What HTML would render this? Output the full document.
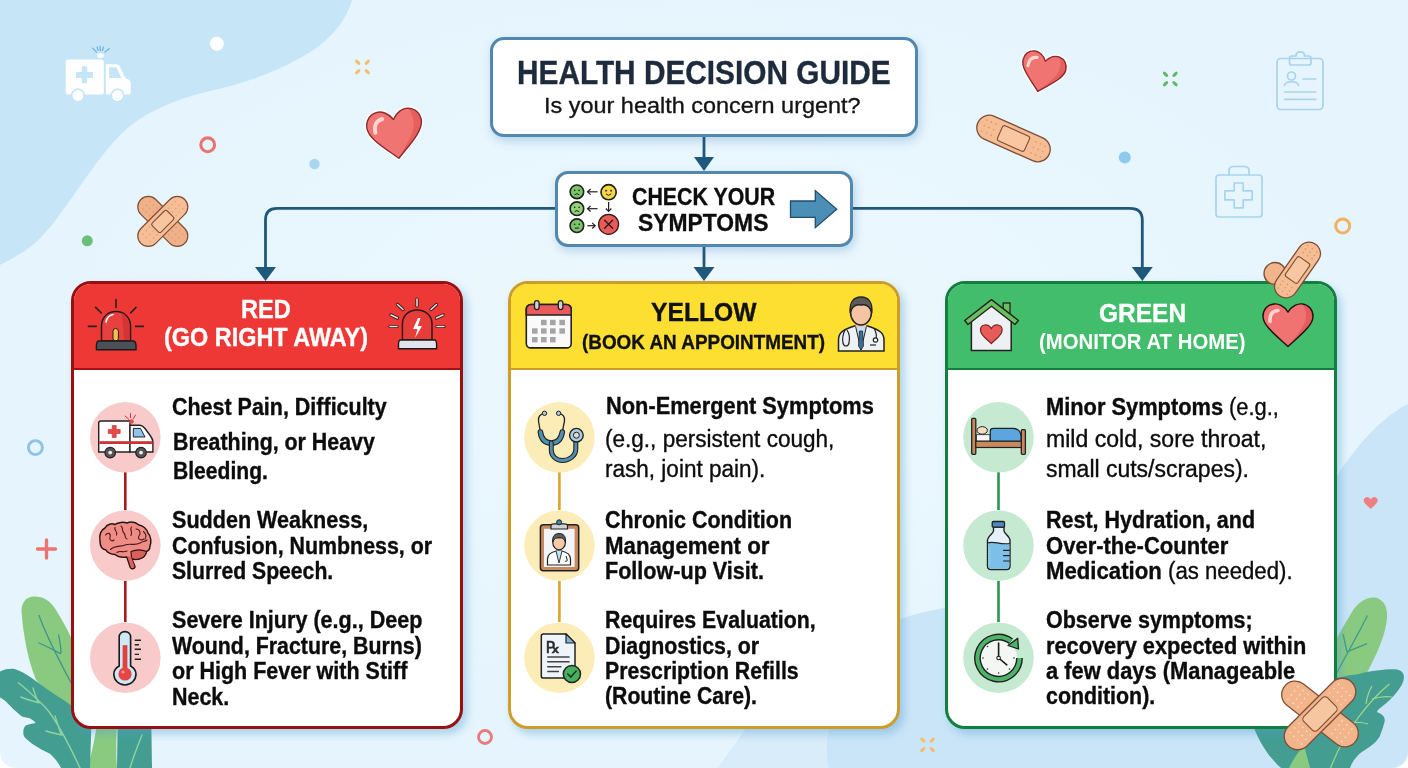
<!DOCTYPE html>
<html><head><meta charset="utf-8"><title>Health Decision Guide</title>
<style>
*{box-sizing:border-box;margin:0;padding:0}
html,body{width:1408px;height:768px;overflow:hidden}
body{position:relative;background:#e6f5fd;font-family:"Liberation Sans",Arial,sans-serif}
.abs{position:absolute}
.tl{position:absolute;white-space:nowrap;line-height:1;transform-origin:0 0;-webkit-text-stroke:0.35px currentColor}
.box{position:absolute;background:#fff;border:3px solid #5287ae;border-radius:14px;box-shadow:2px 4px 10px rgba(90,150,200,.35)}
.card{position:absolute;top:280.5px;width:392px;height:448.5px;border-radius:20px;background:#fff;overflow:hidden;box-shadow:4px 5px 9px rgba(80,155,205,.4)}
.hdr{position:absolute;left:0;top:0;right:0;height:86px}
</style></head><body>
<svg class="abs" style="left:0;top:0" width="1408" height="768" viewBox="0 0 1408 768"><defs><radialGradient id="glow" cx="50%" cy="45%" r="55%"><stop offset="0" stop-color="#eff9fe"/><stop offset="1" stop-color="#e6f5fd" stop-opacity="0"/></radialGradient></defs><rect width="1408" height="768" fill="url(#glow)"/><path d="M0,0 L352,0 C345,25 325,45 300,58 C275,72 245,84 208,91.5 C180,98 150,110 130,126 C110,143 95,165 78,189 C62,212 48,232 34,244 C24,252 12,259 0,265 Z" fill="#c6e6f8"/><path d="M718,768 L746,729 C770,705 830,655 901,619 C920,612 935,610 960,605 C1100,570 1250,520 1337,476 C1355,448 1380,418 1408,404 L1408,768 Z" fill="#cae5f8"/><path d="M718,768 L746,729 L829,729 C826,742 826,756 829,768 Z" fill="#d8ecfa"/><g fill="#ffffff"><rect x="65.7" y="59.4" width="38.1" height="35.1" rx="2.5"/><path d="M105.8,64.3 L116.5,64.3 C118,64.3 119,65 119.8,66.5 L125.3,78 L128.5,79.5 C130,80.3 130.7,81.5 130.7,83.5 L130.7,92.5 C130.7,93.6 129.8,94.5 128.7,94.5 L105.8,94.5 Z"/><ellipse cx="100.4" cy="55.6" rx="3.4" ry="2.3"/></g><path d="M109.2,67.2 L116.5,67.2 L121.4,78 L109.2,78 Z" fill="#c6e6f8"/><path d="M81.8,66.2 h5.4 v5.9 h5.8 v5.9 h-5.8 v5.3 h-5.4 v-5.3 h-5.8 v-5.9 h5.8 Z" fill="#c6e6f8"/><circle cx="77.9" cy="95.5" r="7.2" fill="#c6e6f8"/><circle cx="77.9" cy="95.5" r="5.4" fill="#fff"/><circle cx="117.5" cy="95.5" r="7.2" fill="#c6e6f8"/><circle cx="117.5" cy="95.5" r="5.4" fill="#fff"/><path d="M115,97.5 C116.5,99 118.5,99 120,97.5" stroke="#d8ecf9" stroke-width=".8" fill="none"/><path d="M92.6,48.2 L96.5,52.1 M100,46.2 L100.4,50.6 M109.2,48.7 L104.8,52.1 M97,47 L98.2,50.5 M103.5,47 L102.4,50.5" stroke="#6aaee0" stroke-width="1.2" stroke-linecap="round"/><g fill="none" stroke="#a9d3ee" stroke-width="1.7" stroke-linecap="round" stroke-linejoin="round"><rect x="1277" y="58.5" width="46" height="51" rx="4"/><path d="M1289.5,63 L1289.5,58 C1289.5,56.5 1290.5,56 1292,56 L1296,56 C1296,50.5 1304.5,50.5 1304.5,56 L1308.5,56 C1310,56 1311,56.5 1311,58 L1311,63 C1311,64.5 1310,65 1308.5,65 L1292,65 C1290.5,65 1289.5,64.5 1289.5,63 Z"/><circle cx="1291.5" cy="76" r="4"/><path d="M1284.5,85.5 C1285,80.5 1298,80.5 1298.5,85.5"/><path d="M1303,79 L1315.7,79 M1284.5,92 L1315.7,92 M1284.5,99.3 L1315.7,99.3"/><rect x="1216" y="175" width="46" height="42" rx="3"/><path d="M1229,175 L1229,170.5 C1229,167.5 1231,166.5 1234,166.5 L1244,166.5 C1247,166.5 1249,167.5 1249,170.5 L1249,175"/><path d="M1234.2,183 h9 v7.8 h9 v9 h-9 v8 h-9 v-8 h-9.3 v-9 h9.3 Z"/></g><circle cx="216.8" cy="43.8" r="7" fill="#ffffff"/><ellipse cx="0" cy="-6.7" rx="1.60" ry="3.20" transform="translate(362.5,67) rotate(45)" fill="#f3bd6e"/><ellipse cx="0" cy="-6.7" rx="1.60" ry="3.20" transform="translate(362.5,67) rotate(135)" fill="#f3bd6e"/><ellipse cx="0" cy="-6.7" rx="1.60" ry="3.20" transform="translate(362.5,67) rotate(225)" fill="#f3bd6e"/><ellipse cx="0" cy="-6.7" rx="1.60" ry="3.20" transform="translate(362.5,67) rotate(315)" fill="#f3bd6e"/><g transform="translate(395.5,134) rotate(-8)"><path d="M0.00,-14.70 C-4.40,-22.05 -11.00,-24.50 -15.40,-24.01 C-23.10,-23.03 -27.50,-17.15 -27.50,-9.80 C-27.50,0.98 -12.10,12.74 0.00,24.50 C12.10,12.74 27.50,0.98 27.50,-9.80 C27.50,-17.15 23.10,-23.03 15.40,-24.01 C11.00,-24.50 4.40,-22.05 0.00,-14.70 Z" fill="#fff" stroke="#fff" stroke-width="4" stroke-linejoin="round" opacity=".85"/><path d="M0.00,-14.70 C-4.40,-22.05 -11.00,-24.50 -15.40,-24.01 C-23.10,-23.03 -27.50,-17.15 -27.50,-9.80 C-27.50,0.98 -12.10,12.74 0.00,24.50 C12.10,12.74 27.50,0.98 27.50,-9.80 C27.50,-17.15 23.10,-23.03 15.40,-24.01 C11.00,-24.50 4.40,-22.05 0.00,-14.70 Z" fill="#f07471"/><path d="M15.40,-23.52 C25.30,-22.05 27.50,-14.70 27.50,-9.80 C27.50,0.00 16.50,8.82 0.00,24.50 C11.00,9.80 19.80,0.00 19.80,-9.80 C19.80,-16.17 18.15,-21.07 15.40,-23.52 Z" fill="#e05858" opacity=".75"/><path d="M0.00,-14.70 C-4.40,-22.05 -11.00,-24.50 -15.40,-24.01 C-23.10,-23.03 -27.50,-17.15 -27.50,-9.80 C-27.50,0.98 -12.10,12.74 0.00,24.50 C12.10,12.74 27.50,0.98 27.50,-9.80 C27.50,-17.15 23.10,-23.03 15.40,-24.01 C11.00,-24.50 4.40,-22.05 0.00,-14.70 Z" fill="none" stroke="#8a2a2a" stroke-width="1.4" stroke-linejoin="round"/><path d="M-19.8,-3.9 C-20.4,-12.2 -16.5,-16.2 -11.0,-16.7" stroke="#fbd3d0" stroke-width="3.9" fill="none" stroke-linecap="round"/></g><circle cx="207.7" cy="144.8" r="6.9" fill="none" stroke="#e87474" stroke-width="3.1"/><circle cx="314.5" cy="164" r="5.2" fill="#a8d5f2"/><g transform="translate(162.8,221.4) rotate(0)"><g transform="rotate(45)"><rect x="-31.0" y="-10.5" width="62" height="21" rx="10.5" fill="#f0b088" stroke="#7e4e36" stroke-width="1.2"/><circle cx="-13.6" cy="-5.2" r="0.75" fill="#d8946a" opacity=".75"/><circle cx="-13.6" cy="0.0" r="0.75" fill="#d8946a" opacity=".75"/><circle cx="-13.6" cy="5.2" r="0.75" fill="#d8946a" opacity=".75"/><circle cx="-18.3" cy="-5.2" r="0.75" fill="#d8946a" opacity=".75"/><circle cx="-18.3" cy="0.0" r="0.75" fill="#d8946a" opacity=".75"/><circle cx="-18.3" cy="5.2" r="0.75" fill="#d8946a" opacity=".75"/><circle cx="-22.9" cy="-5.2" r="0.75" fill="#d8946a" opacity=".75"/><circle cx="-22.9" cy="0.0" r="0.75" fill="#d8946a" opacity=".75"/><circle cx="-22.9" cy="5.2" r="0.75" fill="#d8946a" opacity=".75"/><circle cx="13.6" cy="-5.2" r="0.75" fill="#d8946a" opacity=".75"/><circle cx="13.6" cy="0.0" r="0.75" fill="#d8946a" opacity=".75"/><circle cx="13.6" cy="5.2" r="0.75" fill="#d8946a" opacity=".75"/><circle cx="18.3" cy="-5.2" r="0.75" fill="#d8946a" opacity=".75"/><circle cx="18.3" cy="0.0" r="0.75" fill="#d8946a" opacity=".75"/><circle cx="18.3" cy="5.2" r="0.75" fill="#d8946a" opacity=".75"/><circle cx="22.9" cy="-5.2" r="0.75" fill="#d8946a" opacity=".75"/><circle cx="22.9" cy="0.0" r="0.75" fill="#d8946a" opacity=".75"/><circle cx="22.9" cy="5.2" r="0.75" fill="#d8946a" opacity=".75"/></g><g transform="rotate(-45)"><rect x="-31.0" y="-10.5" width="62" height="21" rx="10.5" fill="#f6be96" stroke="#7e4e36" stroke-width="1.2"/><circle cx="-13.6" cy="-5.2" r="0.75" fill="#d8946a" opacity=".75"/><circle cx="-13.6" cy="0.0" r="0.75" fill="#d8946a" opacity=".75"/><circle cx="-13.6" cy="5.2" r="0.75" fill="#d8946a" opacity=".75"/><circle cx="-18.3" cy="-5.2" r="0.75" fill="#d8946a" opacity=".75"/><circle cx="-18.3" cy="0.0" r="0.75" fill="#d8946a" opacity=".75"/><circle cx="-18.3" cy="5.2" r="0.75" fill="#d8946a" opacity=".75"/><circle cx="-22.9" cy="-5.2" r="0.75" fill="#d8946a" opacity=".75"/><circle cx="-22.9" cy="0.0" r="0.75" fill="#d8946a" opacity=".75"/><circle cx="-22.9" cy="5.2" r="0.75" fill="#d8946a" opacity=".75"/><circle cx="13.6" cy="-5.2" r="0.75" fill="#d8946a" opacity=".75"/><circle cx="13.6" cy="0.0" r="0.75" fill="#d8946a" opacity=".75"/><circle cx="13.6" cy="5.2" r="0.75" fill="#d8946a" opacity=".75"/><circle cx="18.3" cy="-5.2" r="0.75" fill="#d8946a" opacity=".75"/><circle cx="18.3" cy="0.0" r="0.75" fill="#d8946a" opacity=".75"/><circle cx="18.3" cy="5.2" r="0.75" fill="#d8946a" opacity=".75"/><circle cx="22.9" cy="-5.2" r="0.75" fill="#d8946a" opacity=".75"/><circle cx="22.9" cy="0.0" r="0.75" fill="#d8946a" opacity=".75"/><circle cx="22.9" cy="5.2" r="0.75" fill="#d8946a" opacity=".75"/></g><rect x="-10.5" y="-6.3" width="21.0" height="12.6" rx="2.1" transform="rotate(-45)" fill="#f7c6a0" stroke="#7e4e36" stroke-width="1.1"/></g><circle cx="87.3" cy="240.8" r="5.5" fill="#6dbd7d"/><g transform="translate(1042.5,72.5) rotate(14)"><path d="M0.00,-11.70 C-3.52,-17.55 -8.80,-19.50 -12.32,-19.11 C-18.48,-18.33 -22.00,-13.65 -22.00,-7.80 C-22.00,0.78 -9.68,10.14 0.00,19.50 C9.68,10.14 22.00,0.78 22.00,-7.80 C22.00,-13.65 18.48,-18.33 12.32,-19.11 C8.80,-19.50 3.52,-17.55 0.00,-11.70 Z" fill="#fff" stroke="#fff" stroke-width="4" stroke-linejoin="round" opacity=".85"/><path d="M0.00,-11.70 C-3.52,-17.55 -8.80,-19.50 -12.32,-19.11 C-18.48,-18.33 -22.00,-13.65 -22.00,-7.80 C-22.00,0.78 -9.68,10.14 0.00,19.50 C9.68,10.14 22.00,0.78 22.00,-7.80 C22.00,-13.65 18.48,-18.33 12.32,-19.11 C8.80,-19.50 3.52,-17.55 0.00,-11.70 Z" fill="#f07471"/><path d="M12.32,-18.72 C20.24,-17.55 22.00,-11.70 22.00,-7.80 C22.00,0.00 13.20,7.02 0.00,19.50 C8.80,7.80 15.84,0.00 15.84,-7.80 C15.84,-12.87 14.52,-16.77 12.32,-18.72 Z" fill="#e05858" opacity=".75"/><path d="M0.00,-11.70 C-3.52,-17.55 -8.80,-19.50 -12.32,-19.11 C-18.48,-18.33 -22.00,-13.65 -22.00,-7.80 C-22.00,0.78 -9.68,10.14 0.00,19.50 C9.68,10.14 22.00,0.78 22.00,-7.80 C22.00,-13.65 18.48,-18.33 12.32,-19.11 C8.80,-19.50 3.52,-17.55 0.00,-11.70 Z" fill="none" stroke="#8a2a2a" stroke-width="1.4" stroke-linejoin="round"/><path d="M-15.8,-3.1 C-16.3,-9.8 -13.2,-12.9 -8.8,-13.3" stroke="#fbd3d0" stroke-width="3.1" fill="none" stroke-linecap="round"/></g><ellipse cx="0" cy="-6.7" rx="1.60" ry="3.20" transform="translate(1170.3,79) rotate(45)" fill="#5cba6e"/><ellipse cx="0" cy="-6.7" rx="1.60" ry="3.20" transform="translate(1170.3,79) rotate(135)" fill="#5cba6e"/><ellipse cx="0" cy="-6.7" rx="1.60" ry="3.20" transform="translate(1170.3,79) rotate(225)" fill="#5cba6e"/><ellipse cx="0" cy="-6.7" rx="1.60" ry="3.20" transform="translate(1170.3,79) rotate(315)" fill="#5cba6e"/><g transform="translate(1013.5,138.5) rotate(24)"><rect x="-39.0" y="-12.5" width="78" height="25" rx="12.5" fill="#f6bd94" stroke="#7e4e36" stroke-width="1.3"/><rect x="-14.82" y="-8.25" width="29.64" height="16.5" rx="2.5" fill="#f8c7a1" stroke="#7e4e36" stroke-width="1.1"/><circle cx="-21.8" cy="-6.0" r="0.8" fill="#d48a62" opacity=".8"/><circle cx="-21.8" cy="0.0" r="0.8" fill="#d48a62" opacity=".8"/><circle cx="-21.8" cy="6.0" r="0.8" fill="#d48a62" opacity=".8"/><circle cx="-26.9" cy="-6.0" r="0.8" fill="#d48a62" opacity=".8"/><circle cx="-26.9" cy="0.0" r="0.8" fill="#d48a62" opacity=".8"/><circle cx="-26.9" cy="6.0" r="0.8" fill="#d48a62" opacity=".8"/><circle cx="-32.0" cy="-6.0" r="0.8" fill="#d48a62" opacity=".8"/><circle cx="-32.0" cy="0.0" r="0.8" fill="#d48a62" opacity=".8"/><circle cx="-32.0" cy="6.0" r="0.8" fill="#d48a62" opacity=".8"/><circle cx="21.8" cy="-6.0" r="0.8" fill="#d48a62" opacity=".8"/><circle cx="21.8" cy="0.0" r="0.8" fill="#d48a62" opacity=".8"/><circle cx="21.8" cy="6.0" r="0.8" fill="#d48a62" opacity=".8"/><circle cx="26.9" cy="-6.0" r="0.8" fill="#d48a62" opacity=".8"/><circle cx="26.9" cy="0.0" r="0.8" fill="#d48a62" opacity=".8"/><circle cx="26.9" cy="6.0" r="0.8" fill="#d48a62" opacity=".8"/><circle cx="32.0" cy="-6.0" r="0.8" fill="#d48a62" opacity=".8"/><circle cx="32.0" cy="0.0" r="0.8" fill="#d48a62" opacity=".8"/><circle cx="32.0" cy="6.0" r="0.8" fill="#d48a62" opacity=".8"/></g><circle cx="1124.8" cy="157.4" r="6" fill="#8ecaee"/><circle cx="1342.7" cy="226" r="7" fill="none" stroke="#f0b262" stroke-width="3"/><circle cx="35.4" cy="447.6" r="7" fill="none" stroke="#8fc2e3" stroke-width="2.9"/><path d="M46.5,540 L46.5,558 M37.5,549 L55.5,549" stroke="#ee7272" stroke-width="3.4" stroke-linecap="round"/><g transform="translate(1370.7,503) rotate(0)"><path d="M0.00,-3.60 C-1.12,-5.40 -2.80,-6.00 -3.92,-5.88 C-5.88,-5.64 -7.00,-4.20 -7.00,-2.40 C-7.00,0.24 -3.08,3.12 0.00,6.00 C3.08,3.12 7.00,0.24 7.00,-2.40 C7.00,-4.20 5.88,-5.64 3.92,-5.88 C2.80,-6.00 1.12,-5.40 0.00,-3.60 Z" fill="#f08080"/></g><circle cx="485" cy="737" r="6.5" fill="none" stroke="#e87c7c" stroke-width="2.9"/><ellipse cx="0" cy="-6.7" rx="1.60" ry="3.20" transform="translate(927.5,744.8) rotate(45)" fill="#f3bd6e"/><ellipse cx="0" cy="-6.7" rx="1.60" ry="3.20" transform="translate(927.5,744.8) rotate(135)" fill="#f3bd6e"/><ellipse cx="0" cy="-6.7" rx="1.60" ry="3.20" transform="translate(927.5,744.8) rotate(225)" fill="#f3bd6e"/><ellipse cx="0" cy="-6.7" rx="1.60" ry="3.20" transform="translate(927.5,744.8) rotate(315)" fill="#f3bd6e"/><path d="M34,596.5 C27,597 22,601 21.5,610 C22,622 24,635 26.5,648 C29,660 32,670 36,680 L72,720 L72,640 C68,630 62,620 56,610 C50,600 42,596 34,596.5 Z" fill="#8aca80"/><path d="M88,768 C92,750 96,738 100,700 L118,700 C116,742 116,755 117,768 Z" fill="#8aca80"/><path d="M39,615.5 C48,640 60,662 71,682.7 M39,643 C46,646 54,650 60,653.4 M58.7,635 C60,642 61,648 61,653" stroke="#3d958c" stroke-width="1.3" fill="none" stroke-linecap="round"/><path d="M0,671.5 C5,669 10,668.5 14.7,669 C21,671 26,674 31.8,678 C40,684 52,693 63.6,700 L72,706 L72,768 L61,768 C57,760 52,756 50,753.8 C45,751 41,749.5 39,748 C34,745 31,743 29.3,741.4 C25,738 23,736 23.4,733 C23,730 24,727 26,725.2 C30,724 33,723.5 35.8,723 C33,720 31,719 29,718 C26,717.5 24,717 22,716.5 C15,711 9,705 6,701.5 C3,699 1,698 0,697.5 Z" fill="#439e91"/><path d="M71,704 L92,704 L90,768 L71,768 Z" fill="#439e91"/><path d="M118,700 L151,700 C151.5,740 152,755 152,768 L117,768 Z" fill="#439e91"/><path d="M18.3,682.7 C28,690 36,698 45,707 C55,718 66,738 80,768 M20.8,697 C28,700 34,702 40,702.5 M33,688 C35,694 37,699 38,703 M46,731 C52,733 57,734 62,735 M55,716 C57,722 59,728 61,734 M130,768 C134,755 138,745 142,735" stroke="#8fd49e" stroke-width="1.4" fill="none" stroke-linecap="round"/><path d="M1254,728 L1300,728 L1300,768 L1281,768 C1272,760 1262,748 1254,728 Z" fill="#439e91"/><path d="M1336,640 C1341,630 1346,622 1352,612 C1358,602 1368,596 1377,598 C1388,602 1389,615 1385,630 C1381,645 1374,660 1364,678 L1336,690 Z" fill="#8aca80"/><path d="M1367.4,615.5 C1358,635 1346,655 1336.7,673 M1343,634 C1345,642 1346,648 1347,652 M1347,652 C1354,649 1361,646 1367,643.7" stroke="#3d9a8e" stroke-width="1.3" fill="none"/><path d="M1336,678 C1345,676 1352,675 1358,674.3 C1365,672 1372,671 1377,670.6 C1385,669.5 1392,669 1397,669.4 C1404,671 1406,676 1401.6,685.3 C1397,693 1392,698 1387,702.5 C1383,706 1378,709 1377,712 C1381,714 1386,716 1384.5,722 C1383,728 1381,733 1379.6,736.7 C1375,744 1368,748 1362.5,751.4 C1356,756 1352,762 1350,768 L1300,768 L1300,728 L1336,728 Z" fill="#439e91"/><path d="M1289,768 C1293,760 1298,752 1304,745 L1310,768 Z" fill="#8aca80"/><path d="M1389.4,684 C1370,700 1345,730 1330.6,768 M1372,699 C1378,697 1386,696 1392,697 M1366,704 C1367,697 1369,691 1372,686 M1350,722 C1356,722 1362,722 1368,724" stroke="#a5d78f" stroke-width="1.2" fill="none"/></svg>
<div class="box" style="left:489.8px;top:36.7px;width:428.3px;height:100px"></div>
<div class="box" style="left:555px;top:171px;width:298px;height:76px;border-radius:13px"></div>
<svg class="abs" style="left:0;top:0" width="1408" height="768" viewBox="0 0 1408 768"><g fill="none" stroke="#1f587a" stroke-width="2.8"><path d="M704,137 L704,158"/><path d="M555,208.3 L277,208.3 Q265.5,208.3 265.5,220 L265.5,268"/><path d="M853,208.3 L1130,208.3 Q1142.3,208.3 1142.3,220 L1142.3,268"/><path d="M704,247 L704,268"/></g><path d="M694.0,157 L714.0,157 L704,171 Z" fill="#1f587a"/><path d="M255.0,267 L276.0,267 L265.5,281 Z" fill="#1f587a"/><path d="M693.5,267 L714.5,267 L704,281 Z" fill="#1f587a"/><path d="M1131.8,267 L1152.8,267 L1142.3,281 Z" fill="#1f587a"/></svg>
<div class="card" style="left:71.3px;border:3px solid #9a1010"><div class="hdr" style="background:#ee3835;border-bottom:2.5px solid #a80f0f"></div></div>
<div class="card" style="left:508.4px;border:3px solid #d09c28"><div class="hdr" style="background:#fcdf30;border-bottom:2.5px solid #d09c28"></div></div>
<div class="card" style="left:945px;border:3px solid #137e3e"><div class="hdr" style="background:#42bd6b;border-bottom:2.5px solid #137e3e"></div></div>
<svg class="abs" style="left:0;top:0" width="1408" height="768" viewBox="0 0 1408 768"><path d="M125.3,472 L125.3,510 M125.3,581 L125.3,622" stroke="#a81a1a" stroke-width="2.6"/><circle cx="125.3" cy="437.3" r="35.3" fill="#f9caca"/><circle cx="125.3" cy="545.6" r="35.3" fill="#f9caca"/><circle cx="125.3" cy="657.7" r="35.3" fill="#f9caca"/><path d="M559.4,472 L559.4,510 M559.4,581 L559.4,622" stroke="#d9a52a" stroke-width="2.6"/><circle cx="559.4" cy="437.3" r="35.3" fill="#fcedb8"/><circle cx="559.4" cy="545.6" r="35.3" fill="#fcedb8"/><circle cx="559.4" cy="657.7" r="35.3" fill="#fcedb8"/><path d="M998.5,472 L998.5,510 M998.5,581 L998.5,622" stroke="#2d9450" stroke-width="2.6"/><circle cx="998.5" cy="437.3" r="35.3" fill="#c6ead1"/><circle cx="998.5" cy="545.6" r="35.3" fill="#c6ead1"/><circle cx="998.5" cy="657.7" r="35.3" fill="#c6ead1"/><g stroke="#2a2020" stroke-linecap="round"><path d="M116,299.5 L116,307.5 M95.6,307.4 L101.3,313 M136,307.4 L130.5,313 M88.4,326.4 L96.2,326.4 M135.6,326.4 L143.4,326.4" stroke-width="1.6"/></g><path d="M101.5,341 L101.5,326 C101.5,317 108,311.6 116,311.6 C124,311.6 130.5,317 130.5,326 L130.5,341 Z" fill="#e8403e" stroke="#2a1a1a" stroke-width="1.5"/><path d="M122,313 C128,316 129.5,322 129.5,328 L129.5,340 L124,340 Z" fill="#cc2f2f" opacity=".7"/><path d="M106,322 C107,317 110,315 113,314.5" stroke="#ffffff" stroke-width="1.6" fill="none" stroke-linecap="round"/><rect x="113" y="328.5" width="5.4" height="12.5" rx="2.7" fill="#f0c24e" stroke="#2a1a1a" stroke-width="1"/><path d="M99,341 L133,341 C135,341 136,343 136,346 L136,349.7 L96.4,349.7 L96.4,346 C96.4,343 97,341 99,341 Z" fill="#4b5056" stroke="#1a1a1a" stroke-width="1.4"/><g stroke-linecap="round"><path d="M417,299 L417,306" stroke="#2a1a1a" stroke-width="3.2"/><path d="M417,299 L417,306" stroke="#e0e0e0" stroke-width="1.6"/><path d="M397.5,304.5 L403,309.5" stroke="#2a1a1a" stroke-width="3.2"/><path d="M397.5,304.5 L403,309.5" stroke="#e0e0e0" stroke-width="1.6"/><path d="M436.5,304.5 L431,309.5" stroke="#2a1a1a" stroke-width="3.2"/><path d="M436.5,304.5 L431,309.5" stroke="#e0e0e0" stroke-width="1.6"/><path d="M391,315 L397.5,318" stroke="#2a1a1a" stroke-width="3.2"/><path d="M391,315 L397.5,318" stroke="#e0e0e0" stroke-width="1.6"/><path d="M443,315 L436.5,318" stroke="#2a1a1a" stroke-width="3.2"/><path d="M443,315 L436.5,318" stroke="#e0e0e0" stroke-width="1.6"/><path d="M390,326.5 L397,326.5" stroke="#2a1a1a" stroke-width="3.2"/><path d="M390,326.5 L397,326.5" stroke="#e0e0e0" stroke-width="1.6"/><path d="M437,326.5 L444,326.5" stroke="#2a1a1a" stroke-width="3.2"/><path d="M437,326.5 L444,326.5" stroke="#e0e0e0" stroke-width="1.6"/></g><path d="M402.4,340 L402.4,324 C402.4,315.5 409,309.9 417.2,309.9 C425.4,309.9 432,315.5 432,324 L432,340 Z" fill="#e63c3a" stroke="#2a1a1a" stroke-width="1.5"/><path d="M418,318 L413,329 L417.5,329 L415,338 L422,326 L417.8,326 L420.5,318 Z" fill="#ffffff"/><path d="M400.5,340 L434.5,340 C436,340 436.6,342 436.6,345 L436.6,348.8 L398.5,348.8 L398.5,345 C398.5,342 399,340 400.5,340 Z" fill="#dfe5ea" stroke="#1a1a1a" stroke-width="1.4"/><rect x="526.3" y="304.5" width="44.9" height="43.4" rx="4.5" fill="#fafafa" stroke="#222" stroke-width="1.6"/><path d="M526.3,315 L526.3,309 C526.3,306.5 528.5,304.5 531,304.5 L566.5,304.5 C569,304.5 571.2,306.5 571.2,309 L571.2,315 Z" fill="#ec5b5b" stroke="#222" stroke-width="1.6"/><rect x="534.5" y="300.6" width="4.6" height="9" rx="2.3" fill="#c8d4dc" stroke="#222" stroke-width="1.3"/><rect x="558.3000000000001" y="300.6" width="4.6" height="9" rx="2.3" fill="#c8d4dc" stroke="#222" stroke-width="1.3"/><rect x="541.0" y="319.8" width="5.6" height="5.4" fill="#a5a5a5"/><rect x="550.0" y="319.8" width="5.6" height="5.4" fill="#a5a5a5"/><rect x="559.4000000000001" y="319.8" width="5.6" height="5.4" fill="#a5a5a5"/><rect x="532.0" y="328.3" width="5.6" height="5.4" fill="#a5a5a5"/><rect x="541.0" y="328.3" width="5.6" height="5.4" fill="#a5a5a5"/><rect x="550.0" y="328.3" width="5.6" height="5.4" fill="#a5a5a5"/><rect x="559.4000000000001" y="328.3" width="5.6" height="5.4" fill="#a5a5a5"/><rect x="532.0" y="337.0" width="5.6" height="5.4" fill="#a5a5a5"/><rect x="541.0" y="337.0" width="5.6" height="5.4" fill="#a5a5a5"/><rect x="550.0" y="337.0" width="5.6" height="5.4" fill="#a5a5a5"/><path d="M838.5,351 L838.5,340 C838.5,333 843,330 850,327.5 L856,325.5 L866,325.5 L872,327.5 C879,330 884,333 884,340 L884,351 Z" fill="#eef1f4" stroke="#222" stroke-width="1.5"/><path d="M855.5,326 L861,350 L866.5,326 Z" fill="#bfe0f5" stroke="#222" stroke-width="1"/><path d="M859.5,331 L862.5,331 L863.5,346 L861,350 L858.5,346 Z" fill="#3b6f9a" stroke="#222" stroke-width=".8"/><path d="M845,330 C843,334 842,338 843,343 C844,347 848,347 849,343 C850,338 849,333 847,330" fill="none" stroke="#222" stroke-width="1.2"/><path d="M874,328 C876,332 877,335 876,338" fill="none" stroke="#222" stroke-width="1.2"/><circle cx="875.5" cy="340" r="2.2" fill="#fff" stroke="#222" stroke-width="1.2"/><path d="M870,345 L876,345" stroke="#222" stroke-width="1.2"/><rect x="855.5" y="318" width="11" height="9" fill="#f5c4a4"/><ellipse cx="861" cy="312" rx="10.5" ry="13" fill="#f5c4a4" stroke="#222" stroke-width="1.5"/><path d="M850.3,313 C849,303 853,297 861,297 C869,297 873,303 871.7,313 C870,306 866,304 861,305 C856,304 852,306 850.3,313 Z" fill="#5d5a5c" stroke="#222" stroke-width="1.3"/><path d="M971.4,350.4 L971.4,318 L991.5,303 L1011.2,318 L1011.2,350.4 Z" fill="#eef1f4" stroke="#222" stroke-width="1.5"/><rect x="1003.2" y="303" width="6.8" height="12" fill="#6cbf5e" stroke="#222" stroke-width="1.3"/><path d="M964.7,320.5 L991.5,299.6 L1018.4,320.5 L1015,324.5 L991.5,306.3 L968,324.5 Z" fill="#6cbf5e" stroke="#222" stroke-width="1.4" stroke-linejoin="round"/><path d="M991.3,328.5 C988,323 980,324 980.5,330.5 C981,336 987,339 991.3,343.6 C995.6,339 1001.6,336 1002.1,330.5 C1002.6,324 994.6,323 991.3,328.5 Z" fill="#e95a5a" stroke="#7a2222" stroke-width="1.2"/><path d="M98.7,452 L98.7,423 C98.7,421.8 99.6,421 101,421 L130,421 L130,452 Z" fill="#fff" stroke="#222" stroke-width="1.4"/><path d="M130,452 L130,425.2 L140,425.2 C142,425.2 143.5,426.5 145,428.5 L150.5,436 C152,438 152.9,439.5 152.9,442 L152.9,452 Z" fill="#fff" stroke="#222" stroke-width="1.4"/><path d="M133.3,428.4 L140.5,428.4 L145,437 L133.3,437 Z" fill="#8ec4ee" stroke="#222" stroke-width="1"/><rect x="99.3" y="441.2" width="53" height="2.8" fill="#cc3333"/><path d="M112.2,425.5 h4 v4 h4 v4 h-4 v4 h-4 v-4 h-4 v-4 h4 Z" fill="#e84a4a" stroke="#b73030" stroke-width=".6"/><circle cx="110.2" cy="452.6" r="5.3" fill="#555" stroke="#222" stroke-width="1.2"/><circle cx="110.2" cy="452.6" r="1.9" fill="#eee"/><circle cx="141" cy="452.6" r="5.3" fill="#555" stroke="#222" stroke-width="1.2"/><circle cx="141" cy="452.6" r="1.9" fill="#eee"/><circle cx="131.5" cy="421.5" r="2.2" fill="#e84a4a"/><path d="M125,416 L129,419.5 M130.5,413.5 L130.5,417.5 M135.5,415 L133.5,418.5" stroke="#d23a3a" stroke-width="1" stroke-linecap="round"/><path d="M100,541 C99,535 101,530 105,528 C107,524 112,523 115,524.5 C118,522 124,522 127,523 C131,521.5 136,522.5 139,525 C143,525.5 147,529 148,533 C151,536 151.5,542 150,546 C150,549 148,551 146.5,551.5 C146,555 143,558 139,559 C135,560 132.5,559 131.5,558 L134.8,566 C135.5,568.5 131.5,569.8 130.3,567.5 L126.8,557 C123,557.5 118,557 115,554.5 C111,554.5 107,552.5 106,550 C102,549.5 100,546 100,541 Z" fill="#ef8c86" stroke="#2a1414" stroke-width="1.5" stroke-linejoin="round"/><path d="M131,551.5 C136,549.5 142,549.5 146.5,551.5 C146,555 143,558 139,559 C135,560 132.5,559 131.5,558 Z" fill="#dc5f5c" stroke="#2a1414" stroke-width="1.1"/><path d="M127.3,556.5 L131,556.5 L134.3,565.8 C134.8,567.5 132,568.3 131.2,566.8 Z" fill="#dc5f5c"/><g fill="none" stroke="#4a1818" stroke-width="1.1" stroke-linecap="round"><path d="M105.5,535 C108,532 111,533 110,537 C109,540 112,542 114,540"/><path d="M115,527.5 C113.5,530 118,531 116.5,535"/><path d="M121,526 C124,528 121,531 124,533 C126,535 124,538 127,539"/><path d="M131.5,527 C129,530 133.5,532 131,535.5"/><path d="M136,529 C140,529 141,533 139,536 C137,539 141,541 144,539"/><path d="M110.5,549.5 C115,545 121,547 125,545 C130,543 135,546 140,543 C143,541 145,542 147,540"/><path d="M117,552.5 C120,550 123,553 127,551"/><path d="M143.5,531.5 C146,534 146.5,537 145,539"/></g><path d="M119.2,637 C119.2,633.8 121.7,631.6 124.9,631.6 C128.1,631.6 130.6,633.8 130.6,637 L130.6,666 C134,668 136,671 136,674 C136,680.1 131,685 124.9,685 C118.8,685 113.8,680.1 113.8,674 C113.8,671 115.8,668 119.2,666 Z" fill="#cfe8f6" stroke="#1a1a1a" stroke-width="1.6"/><rect x="122.6" y="645.2" width="4.8" height="24" fill="#e0403e"/><circle cx="125" cy="674" r="6.6" fill="#e64542"/><circle cx="123" cy="672" r="1.6" fill="#f59a96"/><path d="M134.7,640.2 L141,640.2 M134.7,644.8 L139,644.8 M134.7,649.3 L141,649.3 M134.7,654.4 L139,654.4 M134.7,659.2 L141,659.2" stroke="#222" stroke-width="1.4"/><g fill="none" stroke-linecap="round" stroke-linejoin="round"><path d="M544.5,413.3 C540,414 538,417 538.5,421 L540.4,432 M558.6,413.3 C563,414 565,417 564.5,421 L562.3,432" stroke="#222" stroke-width="1.3"/><path d="M540.4,432 C541.5,440 546,443 551.3,443 C556.5,443 561,440 562.3,432" stroke="#222" stroke-width="5.6"/><path d="M540.4,432 C541.5,440 546,443 551.3,443 C556.5,443 561,440 562.3,432" stroke="#4f8fb2" stroke-width="3.4"/><path d="M551.3,443 L551.3,450 C551.3,456 556,460.5 562.5,460.5 C569,460.5 575.8,456 575.8,449 L575.8,441" stroke="#222" stroke-width="5"/><path d="M551.3,443 L551.3,450 C551.3,456 556,460.5 562.5,460.5 C569,460.5 575.8,456 575.8,449 L575.8,441" stroke="#4f8fb2" stroke-width="2.8"/></g><circle cx="544.5" cy="413.3" r="2.2" fill="#a8c8dd" stroke="#222" stroke-width="1"/><circle cx="558.6" cy="413.3" r="2.2" fill="#a8c8dd" stroke="#222" stroke-width="1"/><circle cx="576.4" cy="435.2" r="6.8" fill="#a9cde2" stroke="#222" stroke-width="1.4"/><circle cx="576.4" cy="435.2" r="3" fill="#dcdcd0" stroke="#222" stroke-width="1"/><rect x="540.4" y="524.7" width="38.3" height="46" rx="3" fill="#c98a62" stroke="#222" stroke-width="1.5"/><rect x="544" y="528.8" width="30.6" height="38.2" fill="#f3f5f8"/><path d="M551,529 L551,525.5 C551,524 552,523.8 554,523.8 L564,523.8 C566,523.8 567.5,524 567.5,525.5 L567.5,529 Z" fill="#cfd3d6" stroke="#222" stroke-width="1.2"/><circle cx="559.1" cy="522.3" r="2.5" fill="#3d8ab5" stroke="#222" stroke-width="1"/><path d="M547.5,565 L547.5,559 C547.5,554.5 552,552 556,551 L562,551 C566,552 570.5,554.5 570.5,559 L570.5,565 Z" fill="#fafafa" stroke="#222" stroke-width="1.2"/><path d="M556,551 L559,563 L562,551" fill="#bfe0f5" stroke="#222" stroke-width=".9"/><ellipse cx="559.1" cy="542.5" rx="6.3" ry="7.3" fill="#f7c9a6" stroke="#222" stroke-width="1.2"/><path d="M552.8,542 C552,536 555,533.5 559.1,533.5 C563.2,533.5 566.2,536 565.4,542 C564,538.5 562,537.5 559.1,538 C556.2,537.5 554.2,538.5 552.8,542 Z" fill="#5d5a5c" stroke="#222" stroke-width="1"/><path d="M566,556 L567,559 C568,561 566,562 565,561" fill="none" stroke="#222" stroke-width="1"/><path d="M541.3,636 C541.3,634.8 542.2,633.9 543.4,633.9 L566,633.9 L575,643 L575,676 C575,677.2 574.1,678.1 572.9,678.1 L543.4,678.1 C542.2,678.1 541.3,677.2 541.3,676 Z" fill="#eef4fa" stroke="#222" stroke-width="1.5"/><path d="M566,633.9 L566,643 L575,643 Z" fill="#7fb6d6" stroke="#222" stroke-width="1.2" stroke-linejoin="round"/><text x="545.8" y="652.5" font-family="Liberation Sans, DejaVu Sans, sans-serif" font-size="16" font-weight="400" fill="#2a2a2a" stroke="#2a2a2a" stroke-width="0.5">&#8478;</text><path d="M547.2,657.1 L569.6,657.1 M547.2,661.8 L569.6,661.8 M547.2,666.7 L561.4,666.7 M547.2,671.5 L559,671.5" stroke="#444" stroke-width="1.5"/><circle cx="571.9" cy="674" r="8.6" fill="#45b05e" stroke="#222" stroke-width="1.5"/><path d="M567.8,674 L570.8,677 L576.2,671" fill="none" stroke="#1a3a22" stroke-width="1.6" stroke-linecap="round"/><rect x="971.7" y="418.3" width="4.1" height="36" rx="1" fill="#c88a5c" stroke="#222" stroke-width="1.3"/><rect x="1021.3" y="429.7" width="4.1" height="24.6" rx="1" fill="#c88a5c" stroke="#222" stroke-width="1.3"/><rect x="975.8" y="441.1" width="45.5" height="6.4" fill="#c88a5c" stroke="#222" stroke-width="1.2"/><rect x="976.5" y="434.7" width="13.5" height="6.2" fill="#fafafa" stroke="#222" stroke-width=".8"/><ellipse cx="982.2" cy="430.4" rx="5.2" ry="3.8" fill="#f6dcc0" stroke="#222" stroke-width="1"/><path d="M990.3,441 L990.3,431 C990.3,429 991.5,428.3 993.5,428.3 L1013,428.3 C1018,428.3 1021,432 1021,436 L1021,441 Z" fill="#5ba6de" stroke="#222" stroke-width="1.2"/><path d="M993.5,527 L993.5,531 C993.5,533 988,536 987.5,540 L987.5,566 C987.5,568 989,569.5 991,569.5 L1006.5,569.5 C1008.5,569.5 1010,568 1010,566 L1010,540 C1009.5,536 1004,533 1004,531 L1004,527 Z" fill="#e6f0f8" stroke="#222" stroke-width="1.4"/><path d="M988.2,543 C994,540.5 999,545 1009.3,543.5 L1009.3,566 C1009.3,568 1008,568.8 1006.5,568.8 L991,568.8 C989.5,568.8 988.2,568 988.2,566 Z" fill="#7cc0ea"/><path d="M987.5,543 C994,540.5 999,545 1010,543.5" fill="none" stroke="#222" stroke-width="1.1"/><rect x="992.2" y="521.5" width="12.3" height="5.6" rx="1.2" fill="#4a88c8" stroke="#222" stroke-width="1.3"/><path d="M1003.1,550.4 L1009.8,550.4 M1003.1,555.7 L1009.8,555.7 M1003.1,561 L1009.8,561" stroke="#222" stroke-width="1.2"/><path d="M989.8,548 L989.8,565" stroke="#b8e0f8" stroke-width="1" stroke-dasharray="1 1.5"/><circle cx="998.6" cy="658" r="18.5" fill="#f4f6f3"/><path d="M1019.5,658 A21,21 0 1 1 1011,641.2" fill="none" stroke="#1f1f1f" stroke-width="6.8"/><path d="M1019.5,658 A21,21 0 1 1 1011,641.2" fill="none" stroke="#4cb46a" stroke-width="4"/><path d="M1008,645.5 L1017.7,638.3 L1018.5,649 Z" fill="#4cb46a" stroke="#1f1f1f" stroke-width="1.3" stroke-linejoin="round"/><path d="M998.6,658 L998.6,643 M998.6,658 L1006.8,664.8" stroke="#1a1a1a" stroke-width="1.6" stroke-linecap="round"/><circle cx="998.6" cy="658" r="1.8" fill="#fff" stroke="#1a1a1a" stroke-width="1.1"/><circle cx="987.5" cy="646.5" r=".8" fill="#333"/><circle cx="983" cy="658" r=".8" fill="#333"/><circle cx="987.5" cy="669" r=".8" fill="#333"/><circle cx="998.6" cy="673" r=".8" fill="#333"/><circle cx="1009.5" cy="669" r=".8" fill="#333"/><circle cx="1014" cy="658" r=".8" fill="#333"/></svg><svg class="abs" style="left:0;top:0" width="1408" height="768" viewBox="0 0 1408 768"><circle cx="576.9" cy="191.8" r="6.8" fill="#7cc46a" stroke="#1a221a" stroke-width="1.6"/><circle cx="574.66" cy="190.44" r="0.82" fill="#222"/><circle cx="579.14" cy="190.44" r="0.82" fill="#222"/><path d="M574.52,194.86 Q576.90,192.48 579.28,194.86" fill="none" stroke="#222" stroke-width="1"/><circle cx="576.9" cy="208.7" r="6.8" fill="#96d27a" stroke="#1a221a" stroke-width="1.6"/><circle cx="574.66" cy="207.34" r="0.82" fill="#222"/><circle cx="579.14" cy="207.34" r="0.82" fill="#222"/><path d="M574.52,211.76 Q576.90,209.38 579.28,211.76" fill="none" stroke="#222" stroke-width="1"/><circle cx="576.9" cy="225.7" r="6.8" fill="#7cc46a" stroke="#1a221a" stroke-width="1.6"/><circle cx="574.66" cy="224.34" r="0.82" fill="#222"/><circle cx="579.14" cy="224.34" r="0.82" fill="#222"/><path d="M574.86,228.08 L578.94,228.08" stroke="#222" stroke-width="1.1"/><circle cx="608.6" cy="192.2" r="7.6" fill="#f6d545" stroke="#1a221a" stroke-width="1.6"/><circle cx="606.09" cy="190.68" r="0.91" fill="#222"/><circle cx="611.11" cy="190.68" r="0.91" fill="#222"/><path d="M605.94,193.87 Q608.60,196.76 611.26,193.87" fill="none" stroke="#222" stroke-width="1"/><path d="M587.6,191.8 L597.6,191.8" stroke="#222" stroke-width="1.2"/><path d="M590.6,189.0 L587.6,191.8 L590.6,194.60000000000002" fill="none" stroke="#222" stroke-width="1.2"/><path d="M587.6,208.7 L597.6,208.7" stroke="#222" stroke-width="1.2"/><path d="M590.6,205.89999999999998 L587.6,208.7 L590.6,211.5" fill="none" stroke="#222" stroke-width="1.2"/><path d="M587.4,225.7 L595.2,225.7" stroke="#222" stroke-width="1.2"/><path d="M592.2,222.89999999999998 L595.2,225.7 L592.2,228.5" fill="none" stroke="#222" stroke-width="1.2"/><path d="M608.6,202 L608.6,211.3 M605.8,208.5 L608.6,211.3 L611.4,208.5" fill="none" stroke="#222" stroke-width="1.2"/><circle cx="608.6" cy="224.3" r="10" fill="#e95a58" stroke="#2a1a1a" stroke-width="1.3"/><path d="M604.6,220.3 L612.6,228.3 M612.6,220.3 L604.6,228.3" stroke="#2a1a1a" stroke-width="1.3" stroke-linecap="round"/><path d="M790.5,201 L815.3,201 L815.3,190.6 L836.7,209.2 L815.3,227.7 L815.3,217.3 L790.5,217.3 Z" fill="#4b8fb6" stroke="#1f4e6e" stroke-width="1.3" stroke-linejoin="miter"/></svg>
<div class="tl" style="left:517.00px;top:56.59px;font-size:32.5px;color:#1e2b3c;transform:scaleX(0.9169);"><span style="font-weight:700">HEALTH DECISION GUIDE</span></div>
<div class="tl" style="left:544.00px;top:95.07px;font-size:22.6px;color:#141414;transform:scaleX(1.0373);"><span style="font-weight:400">Is your health concern urgent?</span></div>
<div class="tl" style="left:631.90px;top:184.66px;font-size:24.5px;color:#0d0d0d;transform:scaleX(0.8712);"><span style="font-weight:700">CHECK YOUR</span></div>
<div class="tl" style="left:637.90px;top:210.98px;font-size:24px;color:#0d0d0d;transform:scaleX(0.9525);"><span style="font-weight:700">SYMPTOMS</span></div>
<div class="tl" style="left:241.20px;top:296.09px;font-size:26px;color:#ffffff;transform:scaleX(0.9071);"><span style="font-weight:700">RED</span></div>
<div class="tl" style="left:164.20px;top:325.01px;font-size:25.5px;color:#ffffff;transform:scaleX(0.9191);"><span style="font-weight:700">(GO RIGHT AWAY)</span></div>
<div class="tl" style="left:650.70px;top:299.17px;font-size:26.5px;color:#111;transform:scaleX(0.9307);"><span style="font-weight:700">YELLOW</span></div>
<div class="tl" style="left:582.20px;top:331.32px;font-size:21px;color:#111;transform:scaleX(0.8992);"><span style="font-weight:700">(BOOK AN APPOINTMENT)</span></div>
<div class="tl" style="left:1098.60px;top:299.64px;font-size:26.3px;color:#ffffff;transform:scaleX(0.9311);"><span style="font-weight:700">GREEN</span></div>
<div class="tl" style="left:1039.00px;top:331.32px;font-size:21.6px;color:#ffffff;transform:scaleX(0.9425);-webkit-text-stroke:0"><span style="font-weight:700">(MONITOR AT HOME)</span></div>
<div class="tl" style="left:172.00px;top:396.23px;font-size:23px;color:#0c0c0c;transform:scaleX(0.9333);"><span style="font-weight:700">Chest Pain, Difficulty</span></div>
<div class="tl" style="left:172.50px;top:431.13px;font-size:23px;color:#0c0c0c;transform:scaleX(0.9287);"><span style="font-weight:700">Breathing, or Heavy</span></div>
<div class="tl" style="left:172.50px;top:459.63px;font-size:23px;color:#0c0c0c;transform:scaleX(0.9169);"><span style="font-weight:700">Bleeding.</span></div>
<div class="tl" style="left:172.00px;top:508.93px;font-size:23px;color:#0c0c0c;transform:scaleX(0.9383);"><span style="font-weight:700">Sudden Weakness,</span></div>
<div class="tl" style="left:172.00px;top:535.13px;font-size:23px;color:#0c0c0c;transform:scaleX(0.9294);"><span style="font-weight:700">Confusion, Numbness, or</span></div>
<div class="tl" style="left:172.00px;top:560.23px;font-size:23px;color:#0c0c0c;transform:scaleX(0.9206);"><span style="font-weight:700">Slurred Speech.</span></div>
<div class="tl" style="left:172.00px;top:609.33px;font-size:23px;color:#0c0c0c;transform:scaleX(0.9373);"><span style="font-weight:700">Severe Injury (e.g., Deep</span></div>
<div class="tl" style="left:172.00px;top:635.13px;font-size:23px;color:#0c0c0c;transform:scaleX(0.9279);"><span style="font-weight:700">Wound, Fracture, Burns)</span></div>
<div class="tl" style="left:172.00px;top:659.83px;font-size:23px;color:#0c0c0c;transform:scaleX(0.9349);"><span style="font-weight:700">or High Fever with Stiff</span></div>
<div class="tl" style="left:172.00px;top:685.53px;font-size:23px;color:#0c0c0c;transform:scaleX(0.9324);"><span style="font-weight:700">Neck.</span></div>
<div class="tl" style="left:605.50px;top:395.43px;font-size:23px;color:#0c0c0c;transform:scaleX(0.9483);"><span style="font-weight:700">Non-Emergent Symptoms</span></div>
<div class="tl" style="left:604.90px;top:428.33px;font-size:23px;color:#0c0c0c;transform:scaleX(0.9801);"><span style="font-weight:400">(e.g., persistent cough,</span></div>
<div class="tl" style="left:604.90px;top:458.23px;font-size:23px;color:#0c0c0c;transform:scaleX(0.9795);"><span style="font-weight:400">rash, joint pain).</span></div>
<div class="tl" style="left:604.50px;top:509.33px;font-size:23px;color:#0c0c0c;transform:scaleX(0.9322);"><span style="font-weight:700">Chronic Condition</span></div>
<div class="tl" style="left:604.50px;top:534.73px;font-size:23px;color:#0c0c0c;transform:scaleX(0.9673);"><span style="font-weight:700">Management or</span></div>
<div class="tl" style="left:604.50px;top:559.83px;font-size:23px;color:#0c0c0c;transform:scaleX(0.9381);"><span style="font-weight:700">Follow-up Visit.</span></div>
<div class="tl" style="left:604.90px;top:609.33px;font-size:23px;color:#0c0c0c;transform:scaleX(0.9262);"><span style="font-weight:700">Requires Evaluation,</span></div>
<div class="tl" style="left:604.90px;top:635.13px;font-size:23px;color:#0c0c0c;transform:scaleX(0.9275);"><span style="font-weight:700">Diagnostics, or</span></div>
<div class="tl" style="left:604.90px;top:660.43px;font-size:23px;color:#0c0c0c;transform:scaleX(0.9237);"><span style="font-weight:700">Prescription Refills</span></div>
<div class="tl" style="left:604.90px;top:685.13px;font-size:23px;color:#0c0c0c;transform:scaleX(0.9221);"><span style="font-weight:700">(Routine Care).</span></div>
<div class="tl" style="left:1045.50px;top:395.83px;font-size:23px;color:#0c0c0c;transform:scaleX(0.9488);"><span style="font-weight:700">Minor Symptoms</span><span style="font-weight:400"> (e.g.,</span></div>
<div class="tl" style="left:1045.50px;top:428.33px;font-size:23px;color:#0c0c0c;transform:scaleX(1.0025);"><span style="font-weight:400">mild cold, sore throat,</span></div>
<div class="tl" style="left:1045.50px;top:458.23px;font-size:23px;color:#0c0c0c;transform:scaleX(0.9985);"><span style="font-weight:400">small cuts/scrapes).</span></div>
<div class="tl" style="left:1045.50px;top:508.93px;font-size:23px;color:#0c0c0c;transform:scaleX(0.9349);"><span style="font-weight:700">Rest, Hydration, and</span></div>
<div class="tl" style="left:1045.50px;top:534.53px;font-size:23px;color:#0c0c0c;transform:scaleX(0.9575);"><span style="font-weight:700">Over-the-Counter</span></div>
<div class="tl" style="left:1045.50px;top:559.83px;font-size:23px;color:#0c0c0c;transform:scaleX(0.9645);"><span style="font-weight:700">Medication</span><span style="font-weight:400"> (as needed).</span></div>
<div class="tl" style="left:1045.50px;top:609.33px;font-size:23px;color:#0c0c0c;transform:scaleX(0.9342);"><span style="font-weight:700">Observe symptoms;</span></div>
<div class="tl" style="left:1045.50px;top:635.13px;font-size:23px;color:#0c0c0c;transform:scaleX(0.9467);"><span style="font-weight:700">recovery expected within</span></div>
<div class="tl" style="left:1045.50px;top:660.43px;font-size:23px;color:#0c0c0c;transform:scaleX(0.9513);"><span style="font-weight:700">a few days (Manageable</span></div>
<div class="tl" style="left:1045.50px;top:685.13px;font-size:23px;color:#0c0c0c;transform:scaleX(0.9290);"><span style="font-weight:700">condition).</span></div>
<svg class="abs" style="left:0;top:0" width="1408" height="768" viewBox="0 0 1408 768"><g transform="translate(1288,325) rotate(0)"><path d="M0.00,-12.90 C-4.00,-19.35 -10.00,-21.50 -14.00,-21.07 C-21.00,-20.21 -25.00,-15.05 -25.00,-8.60 C-25.00,0.86 -11.00,11.18 0.00,21.50 C11.00,11.18 25.00,0.86 25.00,-8.60 C25.00,-15.05 21.00,-20.21 14.00,-21.07 C10.00,-21.50 4.00,-19.35 0.00,-12.90 Z" fill="#f07371"/><path d="M14.00,-20.64 C23.00,-19.35 25.00,-12.90 25.00,-8.60 C25.00,0.00 15.00,7.74 0.00,21.50 C10.00,8.60 18.00,0.00 18.00,-8.60 C18.00,-14.19 16.50,-18.49 14.00,-20.64 Z" fill="#e05555" opacity=".75"/><path d="M0.00,-12.90 C-4.00,-19.35 -10.00,-21.50 -14.00,-21.07 C-21.00,-20.21 -25.00,-15.05 -25.00,-8.60 C-25.00,0.86 -11.00,11.18 0.00,21.50 C11.00,11.18 25.00,0.86 25.00,-8.60 C25.00,-15.05 21.00,-20.21 14.00,-21.07 C10.00,-21.50 4.00,-19.35 0.00,-12.90 Z" fill="none" stroke="#221010" stroke-width="1.4" stroke-linejoin="round"/><path d="M-18.0,-3.4 C-18.5,-10.8 -15.0,-14.2 -10.0,-14.6" stroke="#fbd3d0" stroke-width="3.5" fill="none" stroke-linecap="round"/></g><circle cx="1275" cy="273.5" r="11" fill="#f2b48a" stroke="#7e4e36" stroke-width="1.3"/><g transform="translate(1297.5,270) rotate(-55)"><rect x="-31.5" y="-11.5" width="63" height="23" rx="11.5" fill="#f6bd94" stroke="#7e4e36" stroke-width="1.3"/><rect x="-11.97" y="-7.590000000000001" width="23.94" height="15.180000000000001" rx="2.3000000000000003" fill="#f8c7a1" stroke="#7e4e36" stroke-width="1.1"/><circle cx="-17.6" cy="-5.5" r="0.8" fill="#d48a62" opacity=".8"/><circle cx="-17.6" cy="0.0" r="0.8" fill="#d48a62" opacity=".8"/><circle cx="-17.6" cy="5.5" r="0.8" fill="#d48a62" opacity=".8"/><circle cx="-21.7" cy="-5.5" r="0.8" fill="#d48a62" opacity=".8"/><circle cx="-21.7" cy="0.0" r="0.8" fill="#d48a62" opacity=".8"/><circle cx="-21.7" cy="5.5" r="0.8" fill="#d48a62" opacity=".8"/><circle cx="-25.8" cy="-5.5" r="0.8" fill="#d48a62" opacity=".8"/><circle cx="-25.8" cy="0.0" r="0.8" fill="#d48a62" opacity=".8"/><circle cx="-25.8" cy="5.5" r="0.8" fill="#d48a62" opacity=".8"/><circle cx="17.6" cy="-5.5" r="0.8" fill="#d48a62" opacity=".8"/><circle cx="17.6" cy="0.0" r="0.8" fill="#d48a62" opacity=".8"/><circle cx="17.6" cy="5.5" r="0.8" fill="#d48a62" opacity=".8"/><circle cx="21.7" cy="-5.5" r="0.8" fill="#d48a62" opacity=".8"/><circle cx="21.7" cy="0.0" r="0.8" fill="#d48a62" opacity=".8"/><circle cx="21.7" cy="5.5" r="0.8" fill="#d48a62" opacity=".8"/><circle cx="25.8" cy="-5.5" r="0.8" fill="#d48a62" opacity=".8"/><circle cx="25.8" cy="0.0" r="0.8" fill="#d48a62" opacity=".8"/><circle cx="25.8" cy="5.5" r="0.8" fill="#d48a62" opacity=".8"/></g><g transform="translate(1320,714)"><g transform="rotate(38)"><rect x="-45.0" y="-13.5" width="90" height="27" rx="13.5" fill="#f2b48a" stroke="#7e4e36" stroke-width="1.3"/><circle cx="-21.6" cy="-8.1" r="0.75" fill="#fde6d2"/><circle cx="-21.6" cy="-2.7" r="0.75" fill="#fde6d2"/><circle cx="-21.6" cy="2.7" r="0.75" fill="#fde6d2"/><circle cx="-21.6" cy="8.1" r="0.75" fill="#fde6d2"/><circle cx="-27.9" cy="-8.1" r="0.75" fill="#fde6d2"/><circle cx="-27.9" cy="-2.7" r="0.75" fill="#fde6d2"/><circle cx="-27.9" cy="2.7" r="0.75" fill="#fde6d2"/><circle cx="-27.9" cy="8.1" r="0.75" fill="#fde6d2"/><circle cx="-34.2" cy="-8.1" r="0.75" fill="#fde6d2"/><circle cx="-34.2" cy="-2.7" r="0.75" fill="#fde6d2"/><circle cx="-34.2" cy="2.7" r="0.75" fill="#fde6d2"/><circle cx="-34.2" cy="8.1" r="0.75" fill="#fde6d2"/><circle cx="21.6" cy="-8.1" r="0.75" fill="#fde6d2"/><circle cx="21.6" cy="-2.7" r="0.75" fill="#fde6d2"/><circle cx="21.6" cy="2.7" r="0.75" fill="#fde6d2"/><circle cx="21.6" cy="8.1" r="0.75" fill="#fde6d2"/><circle cx="27.9" cy="-8.1" r="0.75" fill="#fde6d2"/><circle cx="27.9" cy="-2.7" r="0.75" fill="#fde6d2"/><circle cx="27.9" cy="2.7" r="0.75" fill="#fde6d2"/><circle cx="27.9" cy="8.1" r="0.75" fill="#fde6d2"/><circle cx="34.2" cy="-8.1" r="0.75" fill="#fde6d2"/><circle cx="34.2" cy="-2.7" r="0.75" fill="#fde6d2"/><circle cx="34.2" cy="2.7" r="0.75" fill="#fde6d2"/><circle cx="34.2" cy="8.1" r="0.75" fill="#fde6d2"/></g><g transform="rotate(-45)"><rect x="-45.0" y="-13.5" width="90" height="27" rx="13.5" fill="#f2b48a" stroke="#7e4e36" stroke-width="1.3"/><circle cx="-21.6" cy="-8.1" r="0.75" fill="#fde6d2"/><circle cx="-21.6" cy="-2.7" r="0.75" fill="#fde6d2"/><circle cx="-21.6" cy="2.7" r="0.75" fill="#fde6d2"/><circle cx="-21.6" cy="8.1" r="0.75" fill="#fde6d2"/><circle cx="-27.9" cy="-8.1" r="0.75" fill="#fde6d2"/><circle cx="-27.9" cy="-2.7" r="0.75" fill="#fde6d2"/><circle cx="-27.9" cy="2.7" r="0.75" fill="#fde6d2"/><circle cx="-27.9" cy="8.1" r="0.75" fill="#fde6d2"/><circle cx="-34.2" cy="-8.1" r="0.75" fill="#fde6d2"/><circle cx="-34.2" cy="-2.7" r="0.75" fill="#fde6d2"/><circle cx="-34.2" cy="2.7" r="0.75" fill="#fde6d2"/><circle cx="-34.2" cy="8.1" r="0.75" fill="#fde6d2"/><circle cx="21.6" cy="-8.1" r="0.75" fill="#fde6d2"/><circle cx="21.6" cy="-2.7" r="0.75" fill="#fde6d2"/><circle cx="21.6" cy="2.7" r="0.75" fill="#fde6d2"/><circle cx="21.6" cy="8.1" r="0.75" fill="#fde6d2"/><circle cx="27.9" cy="-8.1" r="0.75" fill="#fde6d2"/><circle cx="27.9" cy="-2.7" r="0.75" fill="#fde6d2"/><circle cx="27.9" cy="2.7" r="0.75" fill="#fde6d2"/><circle cx="27.9" cy="8.1" r="0.75" fill="#fde6d2"/><circle cx="34.2" cy="-8.1" r="0.75" fill="#fde6d2"/><circle cx="34.2" cy="-2.7" r="0.75" fill="#fde6d2"/><circle cx="34.2" cy="2.7" r="0.75" fill="#fde6d2"/><circle cx="34.2" cy="8.1" r="0.75" fill="#fde6d2"/></g><rect x="-16.74" y="-9.719999999999999" width="33.48" height="19.439999999999998" rx="3.7800000000000002" transform="rotate(-45)" fill="#f6c6a0" stroke="#7e4e36" stroke-width="1.1"/></g><path d="M0,752 L0,768 L16,768 A16,16 0 0 1 0,752 Z" fill="#ffffff"/><path d="M1408,752 L1408,768 L1392,768 A16,16 0 0 0 1408,752 Z" fill="#ffffff"/></svg>
</body></html>
